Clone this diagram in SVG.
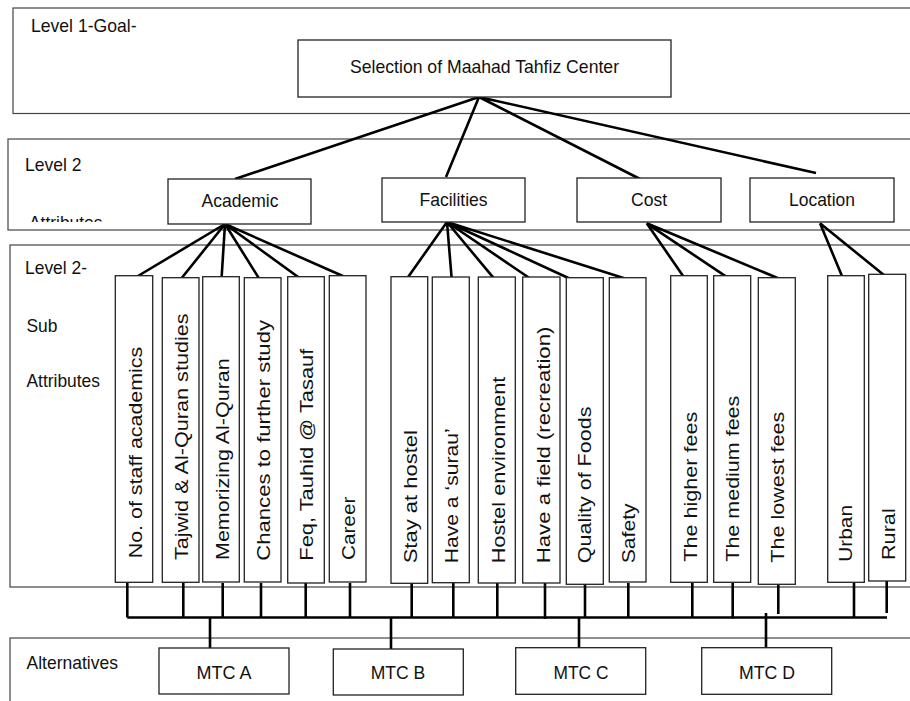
<svg xmlns="http://www.w3.org/2000/svg" width="910" height="701" viewBox="0 0 910 701">
<style>
.panel{fill:none;stroke:#444;stroke-width:1.2}
.box{fill:#fff;stroke:#222;stroke-width:1.3}
.conn{fill:none;stroke:#000;stroke-width:2.6}
.t{font-family:"Liberation Sans",Arial,sans-serif;font-size:18.5px;fill:#111}
.c{text-anchor:middle}
.v{font-family:"Liberation Sans",Arial,sans-serif;font-size:19px;fill:#111}
</style>
<defs>
<clipPath id="clipAttr"><rect x="0" y="0" width="910" height="222"/></clipPath>
</defs>
<rect width="910" height="701" fill="#fff"/>

<g id="panels">
<rect class="panel" x="13" y="8" width="910" height="105.5"/>
<rect class="panel" x="8" y="139" width="910" height="91"/>
<rect class="panel" x="10" y="245" width="910" height="342"/>
<rect class="panel" x="10" y="638" width="910" height="80"/>
<text class="t" x="31" y="31.5" textLength="105.5" lengthAdjust="spacingAndGlyphs">Level 1-Goal-</text>
<text class="t" x="25" y="170.5" textLength="56.5" lengthAdjust="spacingAndGlyphs">Level 2</text>
<text class="t" x="29" y="228.5" textLength="73.5" lengthAdjust="spacingAndGlyphs" clip-path="url(#clipAttr)">Attributes</text>
<text class="t" x="25" y="273.5" textLength="62" lengthAdjust="spacingAndGlyphs">Level 2-</text>
<text class="t" x="26.5" y="331.5" textLength="31" lengthAdjust="spacingAndGlyphs">Sub</text>
<text class="t" x="26.5" y="386.5" textLength="73.5" lengthAdjust="spacingAndGlyphs">Attributes</text>
<text class="t" x="26.5" y="668.5" textLength="91.5" lengthAdjust="spacingAndGlyphs">Alternatives</text>
</g>

<g id="connectors" class="conn">
<path d="M479 97L235 179M479 97L446 177M479 97L640 179M479 97L816 173"/>
<path d="M225 224L138 276M225 224L181.7 278M225 224L221.7 276M225 224L260 280M225 224L303.3 280.7M225 224L347.3 278"/>
<path d="M447 222L408.3 276.7M447 222L451.7 279M447 222L493.3 277.7M447 222L532.3 280M447 222L574.3 280.7M447 222L624.3 278.3"/>
<path d="M646.7 223.3L684.3 277.7M646.7 223.3L727.7 277.7M646.7 223.3L779.3 278.7"/>
<path d="M820 223.3L842.7 277.7M820 223.3L886 276.7"/>
<path d="M127.3 617.5H887"/>
<path d="M127.3 583V617.5M183.3 583V617.5M222.7 583V617.5M261 583V617.5M305.7 583V617.5M350 583V617.5M411.7 583V617.5M453.3 583V617.5M497.3 583V617.5M545 583V619M585 582V617.5M628.3 583V617.5M692.3 583V617.5M732.7 583V618.5M778.3 583V614M854 583V617.5M886.7 581V613"/>
<path d="M210 617.5V649M391 617.5V649M579 617.5V648M766 613V648"/>
</g>

<g id="goal">
<rect class="box" x="298" y="40" width="373" height="57"/>
<text class="t c" x="484.5" y="72.5" textLength="269" lengthAdjust="spacingAndGlyphs">Selection of Maahad Tahfiz Center</text>
</g>

<g id="academic">
<rect class="box" x="168" y="179" width="143" height="45"/>
<text class="t c" x="240" y="206.5" textLength="76.8" lengthAdjust="spacingAndGlyphs">Academic</text>
</g>
<g id="facilities">
<rect class="box" x="382" y="178" width="143" height="44"/>
<text class="t c" x="453.5" y="206" textLength="68" lengthAdjust="spacingAndGlyphs">Facilities</text>
</g>
<g id="cost">
<rect class="box" x="577" y="178" width="144" height="44"/>
<text class="t c" x="649" y="206" textLength="36" lengthAdjust="spacingAndGlyphs">Cost</text>
</g>
<g id="location">
<rect class="box" x="750" y="178" width="144" height="44"/>
<text class="t c" x="822" y="206" textLength="66" lengthAdjust="spacingAndGlyphs">Location</text>
</g>

<g id="sub1"><rect class="box" x="115.3" y="275.7" width="37.4" height="306.6"/><text class="v" x="142" y="558.3" transform="rotate(-90 142 558.3)" textLength="211.6" lengthAdjust="spacingAndGlyphs">No. of staff academics</text></g>
<g id="sub2"><rect class="box" x="162.3" y="277.7" width="36.7" height="304.6"/><text class="v" x="188" y="560" transform="rotate(-90 188 560)" textLength="246.7" lengthAdjust="spacingAndGlyphs">Tajwid &amp; Al-Quran studies</text></g>
<g id="sub3"><rect class="box" x="202.7" y="276.7" width="36.6" height="305.3"/><text class="v" x="229" y="560" transform="rotate(-90 229 560)" textLength="201.7" lengthAdjust="spacingAndGlyphs">Memorizing Al-Quran</text></g>
<g id="sub4"><rect class="box" x="244.3" y="277.7" width="36.7" height="304.3"/><text class="v" x="270.5" y="560.7" transform="rotate(-90 270.5 560.7)" textLength="240.7" lengthAdjust="spacingAndGlyphs">Chances to further study</text></g>
<g id="sub5"><rect class="box" x="287.7" y="276.7" width="36.6" height="306.3"/><text class="v" x="313" y="560.7" transform="rotate(-90 313 560.7)" textLength="212" lengthAdjust="spacingAndGlyphs">Feq, Tauhid @ Tasauf</text></g>
<g id="sub6"><rect class="box" x="329.3" y="275.7" width="36.7" height="306.3"/><text class="v" x="355" y="560" transform="rotate(-90 355 560)" textLength="63.3" lengthAdjust="spacingAndGlyphs">Career</text></g>
<g id="sub7"><rect class="box" x="391" y="276.7" width="36.7" height="306.6"/><text class="v" x="416.7" y="563.3" transform="rotate(-90 416.7 563.3)" textLength="133.3" lengthAdjust="spacingAndGlyphs">Stay at hostel</text></g>
<g id="sub8"><rect class="box" x="432.3" y="277" width="37" height="305.7"/><text class="v" x="458" y="563.3" transform="rotate(-90 458 563.3)" textLength="135" lengthAdjust="spacingAndGlyphs">Have a ‘surau’</text></g>
<g id="sub9"><rect class="box" x="478.3" y="277" width="37" height="306"/><text class="v" x="505" y="563.3" transform="rotate(-90 505 563.3)" textLength="186.7" lengthAdjust="spacingAndGlyphs">Hostel environment</text></g>
<g id="sub10"><rect class="box" x="522.7" y="277" width="37.3" height="306"/><text class="v" x="550" y="563.3" transform="rotate(-90 550 563.3)" textLength="236.7" lengthAdjust="spacingAndGlyphs">Have a field (recreation)</text></g>
<g id="sub11"><rect class="box" x="566.3" y="277.7" width="37" height="306.6"/><text class="v" x="591" y="563.3" transform="rotate(-90 591 563.3)" textLength="156.7" lengthAdjust="spacingAndGlyphs">Quality of Foods</text></g>
<g id="sub12"><rect class="box" x="609.3" y="277.7" width="36.7" height="304.3"/><text class="v" x="635" y="563.3" transform="rotate(-90 635 563.3)" textLength="60" lengthAdjust="spacingAndGlyphs">Safety</text></g>
<g id="sub13"><rect class="box" x="670.7" y="275.7" width="36.6" height="306.6"/><text class="v" x="696.7" y="561.7" transform="rotate(-90 696.7 561.7)" textLength="150" lengthAdjust="spacingAndGlyphs">The higher fees</text></g>
<g id="sub14"><rect class="box" x="713.7" y="275.7" width="37" height="306.6"/><text class="v" x="739.3" y="561.7" transform="rotate(-90 739.3 561.7)" textLength="166" lengthAdjust="spacingAndGlyphs">The medium fees</text></g>
<g id="sub15"><rect class="box" x="758.3" y="277.7" width="37" height="306.6"/><text class="v" x="784" y="562.7" transform="rotate(-90 784 562.7)" textLength="151" lengthAdjust="spacingAndGlyphs">The lowest fees</text></g>
<g id="sub16"><rect class="box" x="827.7" y="275.7" width="36.6" height="306.6"/><text class="v" x="852.3" y="561.7" transform="rotate(-90 852.3 561.7)" textLength="56.7" lengthAdjust="spacingAndGlyphs">Urban</text></g>
<g id="sub17"><rect class="box" x="868.7" y="274.3" width="37" height="306.7"/><text class="v" x="895" y="560" transform="rotate(-90 895 560)" textLength="51.7" lengthAdjust="spacingAndGlyphs">Rural</text></g>

<g id="mtcA"><rect class="box" x="159" y="648" width="130" height="46"/><text class="t c" x="224" y="678.5" textLength="55" lengthAdjust="spacingAndGlyphs">MTC A</text></g>
<g id="mtcB"><rect class="box" x="333.3" y="649" width="130" height="46"/><text class="t c" x="398" y="679" textLength="54.5" lengthAdjust="spacingAndGlyphs">MTC B</text></g>
<g id="mtcC"><rect class="box" x="515.7" y="647.7" width="130" height="46.6"/><text class="t c" x="581" y="678.5" textLength="55" lengthAdjust="spacingAndGlyphs">MTC C</text></g>
<g id="mtcD"><rect class="box" x="701.7" y="647.7" width="130" height="46.6"/><text class="t c" x="767" y="678.5" textLength="56" lengthAdjust="spacingAndGlyphs">MTC D</text></g>
</svg>
